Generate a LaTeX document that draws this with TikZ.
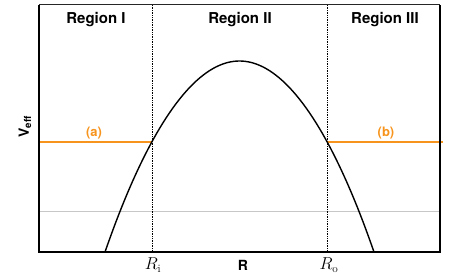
\documentclass[tikz,border=0pt]{standalone}
\usepackage{fontspec}
\setsansfont{TeX Gyre Heros}
\usetikzlibrary{positioning}

\definecolor{levelorange}{RGB}{247,148,29}

\tikzset{
  region/.style={font=\fontsize{15}{18}\selectfont\sffamily\bfseries},
  levellabel/.style={font=\fontsize{13}{16}\selectfont\sffamily\bfseries, text=levelorange},
  axislabel/.style={font=\fontsize{14}{17}\selectfont\sffamily\bfseries},
  radiuslabel/.style={font=\fontsize{16}{19}\selectfont},
  energyline/.style={draw={rgb,255:red,247;green,148;blue,29}, line width=1.8pt},
  turning/.style={densely dotted, line width=0.7pt},
}

\begin{document}
\begin{tikzpicture}[x=1pt,y=-1pt]
    \useasboundingbox (0,0) rectangle (459,275);
    % frame corners
    \coordinate (tl) at (39,5);
    \coordinate (tr) at (440,5);
    \coordinate (bl) at (39,252);
    \coordinate (br) at (440,252);
    % turning points and dotted markers
    \coordinate (rin) at (152,141.7);
    \coordinate (rout) at (327,141.7);
    \coordinate (ritop) at (152,5);
    \coordinate (ribot) at (152,252);
    \coordinate (rotop) at (327,5);
    \coordinate (robot) at (327,252);
    % grey reference line
    \coordinate (gl) at (39,211);
    \coordinate (gr) at (440,211);
    \draw[black!22, line width=0.7pt] (gl) -- (gr);
    \draw[turning] (ritop) -- (ribot);
    \draw[turning] (rotop) -- (robot);
    % energy level (a) and (b)
    \coordinate (enleft) at (39,141.7);
    \coordinate (enright) at (443,141.7);
    \draw[energyline] (enleft) -- (rin);
    \draw[energyline] (rout) -- (enright);
    % barrier
    \coordinate (pl) at (105,252);
    \coordinate (peak) at (239.5,61);
    \coordinate (pr) at (374,252);
    \draw[line width=1.4pt] (pl) parabola bend (peak) (pr);
    % frame
    \draw[black!85, line width=1pt] (tl) -- (tr);
    \draw[line width=1.6pt] (tl) -- (bl) -- (br) -- (tr);
    % labels
    \node[region] (reg1) at (96,20) {Region I};
    \node[region] (reg2) at (240,20) {Region II};
    \node[region] (reg3) at (385,20) {Region III};
    \node[levellabel] (lvla) at (94,133) {(a)};
    \node[levellabel] (lvlb) at (386,133) {(b)};
    \node[axislabel, rotate=90] (veff) at (25,127) {V\textsubscript{eff}};
    \node[radiuslabel] (rilab) at (153,265) {$R_{\mathrm{i}}$};
    \node[axislabel] (rlab) at (243,265) {R};
    \node[radiuslabel] (rolab) at (329,265) {$R_{\mathrm{o}}$};
\end{tikzpicture}
\end{document}
